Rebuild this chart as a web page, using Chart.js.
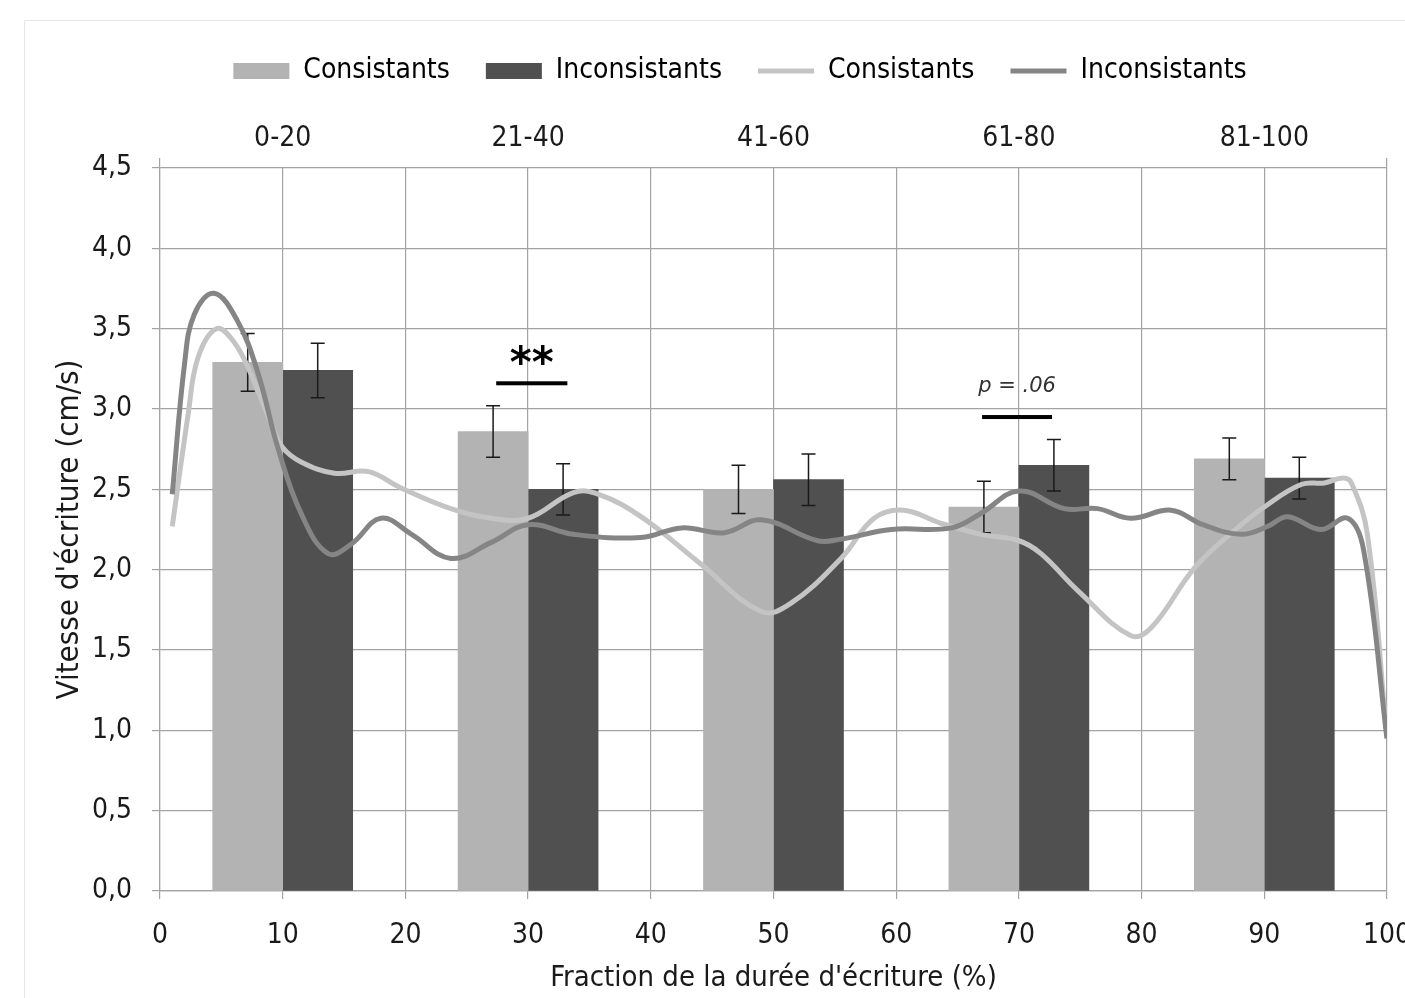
<!DOCTYPE html>
<html lang="fr">
<head>
<meta charset="utf-8">
<title>Vitesse d'écriture</title>
<script src="https://cdn.jsdelivr.net/npm/chart.js@4.4.1/dist/chart.umd.min.js"></script>
<style>
  html, body { margin: 0; padding: 0; background: #fff; overflow: hidden; }
  .frame { position: absolute; left: 24px; top: 20px; width: 1430px; height: 990px;
           border-left: 1px solid #e6e6e6; border-top: 1px solid #e6e6e6; }
  canvas { display: block; }
</style>
</head>
<body>
<div class="frame"><canvas id="speedChart"></canvas></div>
<script>
// Groupes (tranches de la durée d'écriture)
const groupCenters = [10, 30, 50, 70, 90];
const groupLabels  = ['0-20', '21-40', '41-60', '61-80', '81-100'];

// Moyennes par tranche (barres) et erreurs standard
const barConsistants   = [3.29, 2.86, 2.50, 2.39, 2.69];
const barInconsistants = [3.24, 2.50, 2.56, 2.65, 2.57];
const errConsistants   = [0.18, 0.16, 0.15, 0.16, 0.13];
const errInconsistants = [0.17, 0.16, 0.16, 0.16, 0.13];

// Profils continus [fraction %, vitesse]
const lineConsistants = [
    [1, 2.27], [2.3, 2.97], [3.1, 3.32], [4.6, 3.50], [6, 3.42], [7.4, 3.22], [9, 2.92],
    [10, 2.76], [11.5, 2.67], [14.2, 2.60], [17, 2.61], [19.6, 2.51], [23.7, 2.38],
    [27, 2.32], [30, 2.32], [33.7, 2.48], [35.7, 2.47], [39.2, 2.33], [44, 2.04],
    [49, 1.74], [51.4, 1.79], [55.5, 2.07], [58.2, 2.32], [60.6, 2.37], [63.6, 2.29],
    [66.9, 2.22], [70, 2.18], [71.8, 2.10], [74.8, 1.87], [79.1, 1.59], [80.8, 1.64],
    [84.3, 2.01], [87.5, 2.24], [90, 2.39], [93, 2.53], [94.9, 2.54], [96.4, 2.57],
    [97.1, 2.54], [98.4, 2.22], [100, 0.95],
];
const lineInconsistants = [
    [1, 2.47], [2, 3.28], [2.8, 3.59], [4.4, 3.72], [6.3, 3.55], [8, 3.22], [9.6, 2.76],
    [11.5, 2.35], [13.7, 2.10], [15.6, 2.16], [18, 2.32], [20.5, 2.22], [23.7, 2.07],
    [27, 2.17], [30, 2.28], [33.7, 2.22], [39.2, 2.20], [42.5, 2.26], [46, 2.23],
    [49, 2.31], [53.6, 2.18], [55.5, 2.19], [59.6, 2.25], [64.5, 2.26], [66.9, 2.35],
    [70, 2.49], [73.7, 2.38], [76.4, 2.38], [79.1, 2.32], [82.4, 2.37], [85, 2.28],
    [88.1, 2.22], [90.3, 2.27], [91.9, 2.33], [94.6, 2.25], [96.8, 2.32], [98.1, 2.12],
    [100, 0.95],
];

// Marques de significativité
const sigMarks = [
    { from: 27.4, to: 33.2, y: 3.16, textY: 3.27, text: '**',      font: 'bold 42px "DejaVu Sans"' },
    { from: 67.0, to: 72.7, y: 2.95, textY: 3.14, text: 'p = .06', font: 'italic 21px "DejaVu Sans"' },
];

const gridColor  = '#a3a3a3';
const textColor  = '#1a1a1a';
const condensed  = '"DejaVu Sans Condensed", "DejaVu Sans", sans-serif';
const tickFont   = { family: condensed, size: 28 };

const toPoints = pairs => pairs.map(([x, y]) => ({ x, y }));
const toBars   = values => groupCenters.map((x, i) => ({ x, y: values[i] }));
const comma    = v => v.toFixed(1).replace('.', ',');

const errorBars = {
    id: 'errorBars',
    afterDatasetDraw(chart, args) {
        const ds = chart.data.datasets[args.index];
        if (!ds.errors) return;
        const y = chart.scales.y;
        const ctx = chart.ctx;
        ctx.save();
        ctx.strokeStyle = '#1a1a1a';
        ctx.lineWidth = 1.5;
        args.meta.data.forEach((bar, i) => {
            const v = ds.data[i].y, e = ds.errors[i];
            const top = y.getPixelForValue(v + e), bottom = y.getPixelForValue(v - e);
            ctx.beginPath();
            ctx.moveTo(bar.x, top);          ctx.lineTo(bar.x, bottom);
            ctx.moveTo(bar.x - 7, top);      ctx.lineTo(bar.x + 7, top);
            ctx.moveTo(bar.x - 7, bottom);   ctx.lineTo(bar.x + 7, bottom);
            ctx.stroke();
        });
        ctx.restore();
    },
};

const significance = {
    id: 'significance',
    afterDraw(chart) {
        const { ctx, scales: { x, y } } = chart;
        ctx.save();
        sigMarks.forEach(m => {
            ctx.fillStyle = '#000';
            ctx.fillRect(x.getPixelForValue(m.from), y.getPixelForValue(m.y) - 2,
                         x.getPixelForValue(m.to) - x.getPixelForValue(m.from), 4);
            ctx.font = m.font;
            ctx.fillStyle = m.text === '**' ? '#000' : '#333';
            ctx.textAlign = 'center';
            ctx.textBaseline = 'middle';
            ctx.fillText(m.text, x.getPixelForValue((m.from + m.to) / 2), y.getPixelForValue(m.textY));
        });
        ctx.restore();
    },
};

new Chart(document.getElementById('speedChart'), {
    type: 'line',
    data: {
        datasets: [
            { type: 'bar', label: 'Consistants', data: toBars(barConsistants), errors: errConsistants,
              backgroundColor: '#b3b3b3', borderWidth: 0, barThickness: 70, order: 2 },
            { type: 'bar', label: 'Inconsistants', data: toBars(barInconsistants), errors: errInconsistants,
              backgroundColor: '#505050', borderWidth: 0, barThickness: 70, order: 2 },
            { type: 'line', label: 'Consistants', data: toPoints(lineConsistants),
              borderColor: '#c4c4c4', backgroundColor: '#c4c4c4', borderWidth: 5,
              pointRadius: 0, tension: 0.4, order: 1 },
            { type: 'line', label: 'Inconsistants', data: toPoints(lineInconsistants),
              borderColor: '#858585', backgroundColor: '#858585', borderWidth: 5,
              pointRadius: 0, tension: 0.4, order: 0 },
        ],
    },
    options: {
        responsive: true,
        maintainAspectRatio: false,
        animation: false,
        layout: { padding: 0 },
        plugins: {
            tooltip: { enabled: false },
            legend: {
                position: 'top',
                labels: {
                    usePointStyle: true,
                    pointStyleWidth: 56,
                    boxHeight: 16,
                    padding: 36,
                    color: '#000',
                    font: { family: condensed, size: 28 },
                    sort: (a, b) => a.datasetIndex - b.datasetIndex,
                    generateLabels(chart) {
                        return Chart.defaults.plugins.legend.labels.generateLabels(chart).map(item => {
                            const ds = chart.data.datasets[item.datasetIndex];
                            item.pointStyle = ds.type === 'line' ? 'line' : 'rect';
                            if (ds.type === 'line') { item.strokeStyle = ds.borderColor; item.lineWidth = 5; }
                            return item;
                        });
                    },
                },
            },
        },
        scales: {
            x: {
                type: 'linear', position: 'bottom', min: 0, max: 100, offset: false,
                afterFit: s => { s.height = 120; },
                ticks: { stepSize: 10, color: textColor, font: tickFont, padding: 20, maxRotation: 0 },
                grid: { color: gridColor, lineWidth: 1.2, tickLength: 8, offset: false },
                border: { color: gridColor, width: 1.2 },
                title: { display: true, text: "Fraction de la durée d'écriture (%)", color: textColor,
                         font: { family: condensed, size: 29 }, padding: { top: 0, bottom: 15 } },
            },
            x2: {
                type: 'linear', position: 'top', min: 0, max: 100, offset: false,
                afterBuildTicks: s => { s.ticks = [0, ...groupCenters, 100].map(value => ({ value })); },
                afterFit: s => { s.height = 73; },
                ticks: { autoSkip: false, maxRotation: 0, color: textColor, font: tickFont, padding: 2,
                         callback: v => groupLabels[groupCenters.indexOf(v)] ?? '' },
                grid: { drawOnChartArea: false, tickLength: 10, lineWidth: 1.2,
                        color: c => (c.tick && (c.tick.value === 0 || c.tick.value === 100)) ? gridColor : 'rgba(0,0,0,0)' },
                border: { display: false },
            },
            y: {
                type: 'linear', position: 'left', min: 0, max: 4.5,
                afterFit: s => { s.width = 135; },
                ticks: { stepSize: 0.5, callback: comma, color: textColor, font: tickFont, padding: 20 },
                grid: { color: gridColor, lineWidth: 1.2, tickLength: 8 },
                border: { color: gridColor, width: 1.2 },
                title: { display: true, text: "Vitesse d'écriture (cm/s)", color: textColor,
                         font: { family: condensed, size: 31 }, padding: { top: 26, bottom: 0 } },
            },
            yPad: {
                type: 'linear', position: 'right', display: true,
                afterFit: s => { s.width = 68; },
                ticks: { display: false },
                grid: { display: false },
                border: { display: false },
            },
        },
    },
    plugins: [errorBars, significance],
});
</script>
</body>
</html>
